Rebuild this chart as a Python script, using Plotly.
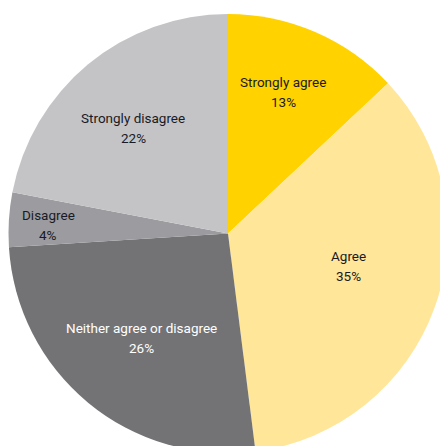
import math
import plotly.graph_objects as go

labels = ["Strongly agree", "Agree", "Neither agree or disagree", "Disagree", "Strongly disagree"]
values = [13, 35, 26, 4, 22]

colors = ["#FFD200", "#FFE699", "#737375", "#9C9CA0", "#C4C4C7"]
text_colors = ["#1A1A24", "#1A1A24", "#FFFFFF", "#1A1A24", "#1A1A24"]
# label placement: share of the radius along the slice, and a small turn (degrees) off its middle
label_radius = [0.69, 0.57, 0.615, 0.82, 0.645]
label_turn = [-2.0, -4.8, 0.0, -1.0, -2.4]

W, H = 460, 470
cx, cy, r = 228, 233.5, 219.5
FONT = "Roboto"
FSIZE = 13.5

fig = go.Figure(go.Pie(
    labels=labels,
    values=values,
    sort=False,
    direction="clockwise",
    rotation=0,
    marker=dict(colors=colors, line=dict(width=0)),
    textinfo="none",
    hoverinfo="skip",
    showlegend=False,
    domain=dict(x=[(cx - r) / W, (cx + r) / W], y=[1 - (cy + r) / H, 1 - (cy - r) / H]),
))

# slice labels: name on one line, share below, centred near the slice's mid-angle
total = sum(values)
cum = 0
annotations = []
for lab, v, col, fr, turn in zip(labels, values, text_colors, label_radius, label_turn):
    theta = 2 * math.pi * (cum + v / 2) / total + math.radians(turn)
    cum += v
    px = cx + fr * r * math.sin(theta)
    py = cy - fr * r * math.cos(theta)
    for txt, shift in ((lab, 10), (f"{v}%", -10)):
        annotations.append(dict(
            x=px / W, y=1 - py / H, xref="paper", yref="paper",
            text=txt, showarrow=False, yshift=shift,
            xanchor="center", yanchor="middle",
            font=dict(family=FONT, size=FSIZE, color=col),
        ))

fig.update_layout(
    width=W, height=H,
    margin=dict(l=0, r=0, t=0, b=0),
    paper_bgcolor="white",
    plot_bgcolor="white",
    annotations=annotations,
)

fig.write_html(
    "out.html",
    config={"displayModeBar": False},
    post_script="document.documentElement.style.overflow='hidden';document.body.style.overflow='hidden';document.body.style.margin='0';",
)
